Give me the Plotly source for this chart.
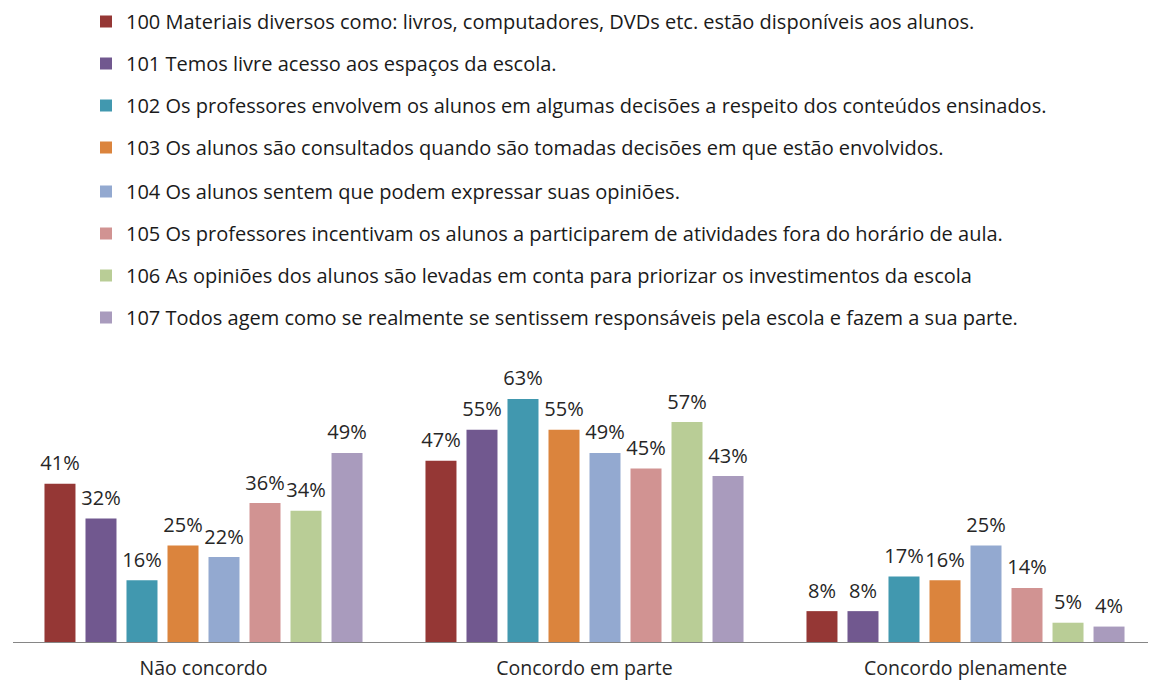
import plotly.graph_objects as go

categories = ["Não concordo", "Concordo em parte", "Concordo plenamente"]
series_names = [
    "100 Materiais diversos como: livros, computadores, DVDs etc. estão disponíveis aos alunos.",
    "101 Temos livre acesso aos espaços da escola.",
    "102 Os professores envolvem os alunos em algumas decisões a respeito dos conteúdos ensinados.",
    "103 Os alunos são consultados quando são tomadas decisões em que estão envolvidos.",
    "104 Os alunos sentem que podem expressar suas opiniões.",
    "105 Os professores incentivam os alunos a participarem de atividades fora do horário de aula.",
    "106 As opiniões dos alunos são levadas em conta para priorizar os investimentos da escola",
    "107 Todos agem como se realmente se sentissem responsáveis pela escola e fazem a sua parte.",
]
s100 = [41, 47, 8]
s101 = [32, 55, 8]
s102 = [16, 63, 17]
s103 = [25, 55, 16]
s104 = [22, 49, 25]
s105 = [36, 45, 14]
s106 = [34, 57, 5]
s107 = [49, 43, 4]
series_values = [s100, s101, s102, s103, s104, s105, s106, s107]
colors = ["#953735", "#71588F", "#4198AF", "#DB843D", "#93A9D0", "#D19392", "#B9CD96", "#A99BBD"]

FONT = "Open Sans"
fig = go.Figure()
for i, (name, vals, col) in enumerate(zip(series_names, series_values, colors)):
    fig.add_trace(go.Bar(
        x=categories, y=vals, name=name, legendgroup=f"g{i}",
        legend="legend" if i < 4 else "legend2",
        marker=dict(color=col, line=dict(width=0)),
        hoverinfo="skip",
    ))
# value labels, grouped like the bars
for i, (name, vals) in enumerate(zip(series_names, series_values)):
    fig.add_trace(go.Scatter(
        x=categories, y=vals, mode="markers+text",
        text=[f"{v}%" for v in vals], textposition="top center",
        textfont=dict(family=FONT, size=20, color="#262626"),
        marker=dict(size=12, opacity=0),
        showlegend=False, hoverinfo="skip", cliponaxis=False,
    ))

legend_common = dict(
    yref="paper", yanchor="top", xref="container", xanchor="left", x=78 / 1156,
    font=dict(family=FONT, size=20, color="#1a1a1a"),
    tracegroupgap=13, itemclick=False, itemdoubleclick=False,
    bgcolor="rgba(0,0,0,0)",
)

fig.update_layout(
    width=1156, height=680,
    paper_bgcolor="white", plot_bgcolor="white",
    margin=dict(l=5, r=8, t=362, b=46, autoexpand=False),
    barmode="group", bargap=0.139, bargroupgap=0.244,
    scattermode="group", scattergap=0.139,
    showlegend=True,
    legend=dict(y=(642 - 2) / 272, **legend_common),
    legend2=dict(y=(642 - 172) / 272, **legend_common),
    xaxis=dict(
        showline=True, linecolor="#868686", linewidth=1,
        ticks="", tickfont=dict(family=FONT, size=19.5, color="#262626"),
        tickangle=0, ticklabelstandoff=9,
    ),
    yaxis=dict(visible=False, range=[0, 70.5], showgrid=False, zeroline=False),
)
fig.write_html("out.html")
